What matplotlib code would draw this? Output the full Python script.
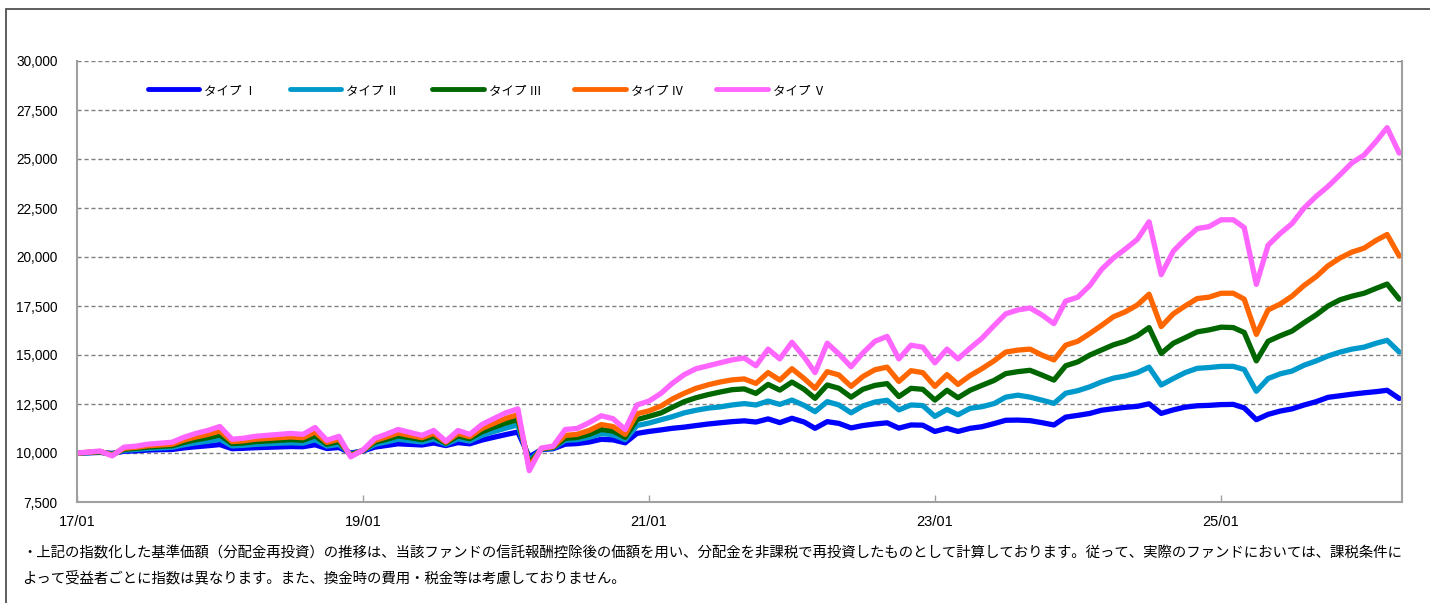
import matplotlib
matplotlib.use("Agg")
import matplotlib.pyplot as plt
import matplotlib.dates as mdates
from matplotlib.ticker import FuncFormatter
from matplotlib.patches import Rectangle
import pandas as pd

# ---------------- data (monthly, index 2017/01 = 10,000) ----------------
dates = pd.date_range("2017-01-01", periods=112, freq="MS")

type_v = [10000, 10050, 10100, 9850, 10300, 10350, 10450, 10500, 10550, 10800, 11000, 11150,
          11350, 10700, 10750, 10850, 10900, 10950, 11000, 10950, 11300, 10650, 10850, 9800,
          10150, 10750, 10950, 11200, 11050, 10900, 11150, 10600, 11150, 10950, 11450, 11750,
          12050, 12250, 9100, 10250, 10350, 11200, 11250, 11550, 11900, 11750, 11200, 12450,
          12650, 13050, 13550, 14000, 14300, 14450, 14600, 14750, 14850, 14450, 15300, 14800,
          15650, 14900, 14100, 15600, 15050, 14400, 15100, 15700, 15950, 14800, 15500, 15400,
          14600, 15300, 14800, 15350, 15850, 16500, 17100, 17300, 17400, 17050, 16600, 17750,
          17950, 18550, 19350, 19950, 20400, 20900, 21800, 19100, 20300, 20900, 21450, 21550,
          21900, 21900, 21500, 18600, 20600, 21200, 21700, 22500, 23100, 23600, 24200, 24800,
          25200, 25900, 26600, 25300]

type_iv = [10000, 10040, 10080, 9890, 10240, 10290, 10370, 10410, 10450, 10660, 10820, 10950,
           11120, 10580, 10620, 10700, 10740, 10780, 10820, 10780, 11070, 10540, 10700, 9850,
           10140, 10640, 10810, 11020, 10900, 10780, 11000, 10550, 11000, 10830, 11250, 11510,
           11770, 11950, 9300, 10230, 10320, 10900, 10950, 11150, 11450, 11350, 10950, 12000,
           12150, 12400, 12750, 13050, 13300, 13480, 13620, 13730, 13780, 13550, 14100, 13720,
           14300, 13800, 13300, 14150, 13980, 13400, 13900, 14250, 14380, 13650, 14200, 14100,
           13400, 14000, 13500, 13950, 14300, 14700, 15150, 15250, 15300, 15000, 14750, 15500,
           15700, 16100, 16500, 16950, 17200, 17550, 18100, 16450, 17100, 17500, 17880, 17950,
           18150, 18150, 17850, 16050, 17300, 17600, 18000, 18550, 19000, 19550, 19950, 20250,
           20450, 20850, 21150, 20050]

type_iii = [10000, 10030, 10060, 9920, 10190, 10240, 10300, 10340, 10370, 10540, 10680, 10780,
            10920, 10480, 10510, 10580, 10610, 10650, 10680, 10650, 10880, 10450, 10580, 9900,
            10130, 10550, 10690, 10870, 10780, 10680, 10860, 10500, 10870, 10730, 11080, 11310,
            11530, 11700, 9450, 10210, 10290, 10750, 10790, 10950, 11200, 11120, 10800, 11700,
            11870, 12050, 12330, 12620, 12820, 12980, 13110, 13230, 13270, 13040, 13500, 13210,
            13620, 13250, 12790, 13470, 13300, 12850, 13250, 13450, 13540, 12880, 13300, 13250,
            12700, 13200, 12820, 13200, 13450, 13700, 14050, 14150, 14220, 13980, 13720, 14450,
            14650, 15000, 15250, 15520, 15700, 15980, 16400, 15080, 15600, 15880, 16180, 16280,
            16420, 16400, 16150, 14700, 15700, 15980, 16220, 16650, 17050, 17500, 17820, 18000,
            18150, 18400, 18620, 17850]

type_ii = [10000, 10020, 10050, 9950, 10140, 10180, 10230, 10260, 10290, 10420, 10520, 10600,
           10700, 10360, 10390, 10440, 10470, 10500, 10520, 10500, 10680, 10350, 10440, 9950,
           10120, 10440, 10560, 10700, 10630, 10560, 10710, 10450, 10720, 10610, 10900, 11090,
           11270, 11430, 9600, 10190, 10260, 10650, 10680, 10800, 10990, 10930, 10680, 11400,
           11530, 11700, 11850, 12050, 12180, 12290, 12350, 12450, 12520, 12450, 12650, 12480,
           12700, 12430, 12110, 12620, 12450, 12050, 12400, 12600, 12690, 12200, 12450, 12420,
           11870, 12220, 11950, 12280, 12360, 12520, 12850, 12950, 12850, 12700, 12530, 13050,
           13180, 13380, 13620, 13820, 13930, 14100, 14380, 13470, 13800, 14100, 14320, 14360,
           14420, 14420, 14260, 13150, 13800, 14040, 14180, 14480, 14700, 14950, 15150, 15300,
           15400, 15600, 15750, 15150]

type_i = [10000, 10010, 10030, 9980, 10090, 10110, 10150, 10170, 10180, 10260, 10320, 10370,
          10430, 10220, 10240, 10270, 10290, 10310, 10330, 10320, 10420, 10230, 10280, 10000,
          10100, 10300, 10380, 10470, 10440, 10410, 10510, 10380, 10530, 10470, 10660, 10800,
          10940, 11070, 9800, 10170, 10220, 10450, 10480, 10560, 10700, 10670, 10520, 11000,
          11100, 11180, 11260, 11320, 11400, 11480, 11540, 11600, 11640, 11580, 11740, 11550,
          11770, 11580, 11260, 11600, 11510, 11280, 11400, 11480, 11540, 11270, 11430, 11420,
          11100, 11260, 11100, 11260, 11340, 11500, 11670, 11680, 11650, 11550, 11430, 11830,
          11920, 12020, 12180, 12260, 12330, 12380, 12510, 12020, 12200, 12340, 12410, 12430,
          12470, 12480, 12300, 11700, 11970, 12140, 12250, 12450, 12620, 12840, 12920, 13000,
          13070, 13130, 13200, 12780]

series_labels = ["タイプ Ⅰ", "タイプ Ⅱ", "タイプ Ⅲ", "タイプ Ⅳ", "タイプ Ⅴ"]
series_values = [type_i, type_ii, type_iii, type_iv, type_v]
series_colors = ["#0000ff", "#0099cc", "#006600", "#ff6600", "#ff66ff"]

x_tick_dates = ["2017-01-01", "2019-01-01", "2021-01-01", "2023-01-01", "2025-01-01"]
y_ticks = [7500, 10000, 12500, 15000, 17500, 20000, 22500, 25000, 27500, 30000]

note_lines = [
    "・上記の指数化した基準価額（分配金再投資）の推移は、当該ファンドの信託報酬控除後の価額を用い、分配金を非課税で再投資したものとして計算しております。従って、実際のファンドにおいては、課税条件に",
    "よって受益者ごとに指数は異なります。また、換金時の費用・税金等は考慮しておりません。",
]

# ---------------- figure ----------------
W, H = 1430, 603
fig = plt.figure(figsize=(W / 100, H / 100), dpi=100)
fig.patch.set_facecolor("white")

ax_l, ax_r, ax_t, ax_b = 77, 1402, 61, 502
ax = fig.add_axes([ax_l / W, 1 - ax_b / H, (ax_r - ax_l) / W, (ax_b - ax_t) / H])

for vals, col, lab in zip(series_values, series_colors, series_labels):
    ax.plot(dates, vals, color=col, lw=3.8, label=lab, solid_joinstyle="round",
            solid_capstyle="round")

ax.set_ylim(7500, 30000)
ax.set_xlim(pd.Timestamp("2017-01-01"), pd.Timestamp("2026-04-08"))
ax.set_yticks(y_ticks)
ax.yaxis.set_major_formatter(FuncFormatter(lambda v, p: f"{int(v):,}"))
ax.set_xticks([pd.Timestamp(d) for d in x_tick_dates])
ax.xaxis.set_major_formatter(mdates.DateFormatter("%y/%m"))

ax.grid(axis="y", color="#808080", linestyle=(0, (3, 2)), linewidth=1.0)
ax.set_axisbelow(True)

for s in ["left", "bottom", "right"]:
    ax.spines[s].set_color("#a0a0a0")
    ax.spines[s].set_linewidth(1.5)
ax.spines["top"].set_visible(False)

ax.tick_params(axis="y", length=0, pad=14, labelsize=9.8, colors="black")
ax.tick_params(axis="x", direction="in", length=5, width=1, color="#a0a0a0",
               pad=9, labelsize=10.5)
for t in ax.get_yticklabels():
    t.set_fontfamily(["Liberation Sans", "DejaVu Sans"])
for t in ax.get_xticklabels():
    t.set_fontfamily(["Liberation Sans Narrow", "Liberation Sans", "DejaVu Sans"])

leg = ax.legend(loc="center left", bbox_to_anchor=(0.0536, 0.934), ncol=5,
                frameon=False, borderpad=0, borderaxespad=0, handlelength=4.1,
                handletextpad=0.4, columnspacing=2.65,
                prop={"family": ["Noto Sans CJK JP", "DejaVu Sans"], "size": 9})
for ln in leg.get_lines():
    ln.set_linewidth(3.5)

# notes
for i, line in enumerate(note_lines):
    fig.text(22 / W, 1 - (553 + i * 25) / H, line, ha="left", va="center",
             fontsize=10.4, family=["Noto Sans CJK JP", "DejaVu Sans"])

# outer frame (left and top edges)
fig.patches.append(Rectangle((6 / W, -0.2), 1.2, 1.2 - 9 / H, transform=fig.transFigure,
                             fill=False, edgecolor="#505050", linewidth=1.3))

fig.savefig("out.png", dpi=100, facecolor="white")
